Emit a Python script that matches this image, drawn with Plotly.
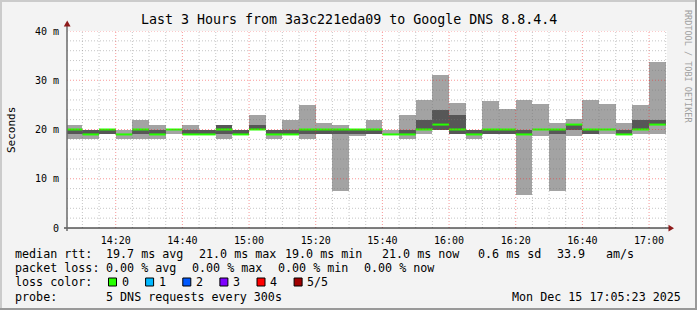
import plotly.graph_objects as go
import pandas as pd

# ---------------- data ----------------
bar_end = pd.date_range("2025-12-15 14:10", "2025-12-15 17:05", freq="5min")
ping_min = [18, 18, 19, 18, 18, 18, 19, 19, 19, 18, 19, 20, 18, 19, 18, 19, 7.6, 18.7,
            19, 19, 18, 19, 20, 19, 18, 19, 19, 6.8, 18.7, 7.6, 18.7, 19, 19, 19, 19, 19]
ping_lo = [19, 19, 19, 19, 19, 19, 20, 19, 19, 19, 19, 20, 19, 19, 19, 19, 19, 19,
           19, 19, 19, 20, 20, 19, 19, 19, 19, 19, 20, 19, 20, 19, 20, 19, 20, 21]
ping_med = [20, 19, 20, 19, 20, 19, 20, 19, 19, 20, 19, 20, 19, 19, 20, 20, 20, 20,
            20, 19, 19, 20, 21, 20, 19, 20, 20, 19, 20, 20, 21, 20, 20, 19, 20, 21]
ping_hi = [20, 20, 20, 19, 20, 20, 20, 20, 20, 21, 20, 21, 20, 20, 20, 20, 20, 20,
           20, 19, 20, 22, 24, 23, 20, 20, 20, 20, 20, 20, 21, 20, 20, 20, 22, 22]
ping_max = [21, 20, 20, 20, 22, 21, 20, 21, 20, 21, 20, 23, 20, 22, 25, 21.3, 21, 20,
            22, 20, 23, 26, 31, 25.4, 20, 25.8, 24.2, 26, 25.2, 21.3, 22.1, 26, 25.2, 21.3, 25, 33.8]

title_text = "Last 3 Hours from 3a3c221eda09 to Google DNS 8.8.4.4"
y_tick_vals = [0, 10, 20, 30, 40]
y_tick_text = ["0", "10 m", "20 m", "30 m", "40 m"]
x_tick_times = pd.date_range("2025-12-15 14:20", "2025-12-15 17:00", freq="20min")
x_tick_text = ["14:20", "14:40", "15:00", "15:20", "15:40", "16:00", "16:20", "16:40", "17:00"]
x_range = ["2025-12-15 14:05:23", "2025-12-15 17:05:23"]

legend_line1 = ["median rtt:", "19.7 ms avg", "21.0 ms max", "19.0 ms min", "21.0 ms now",
                "0.6 ms sd", "33.9", "am/s"]
legend_line2 = ["packet loss:", "0.00 % avg", "0.00 % max", "0.00 % min", "0.00 % now"]
loss_labels = ["0", "1", "2", "3", "4", "5/5"]
loss_colors = ["#26ff00", "#00b8ff", "#0059ff", "#7e00ff", "#ff0000", "#a00000"]
probe_text = "5 DNS requests every 300s"
date_text = "Mon Dec 15 17:05:23 2025"

# ---------------- geometry ----------------
W, H = 697, 310
ML, MT, PW, PH = 67, 31, 600, 197
FONT = "DejaVu Sans Mono"


def px(x):
    return (x - ML) / PW


def py(y):
    return (MT + PH - y) / PH


step = pd.Timedelta(minutes=5)
centers = [t - step / 2 for t in bar_end]

fig = go.Figure()
fig.add_trace(go.Bar(x=centers, y=[b - a for a, b in zip(ping_min, ping_max)], base=ping_min,
                     width=300000, marker=dict(color="#a3a3a3", line=dict(width=0)),
                     hoverinfo="skip"))
fig.add_trace(go.Bar(x=centers, y=[b - a for a, b in zip(ping_lo, ping_hi)], base=ping_lo,
                     width=300000, marker=dict(color="#575757", line=dict(width=0)),
                     hoverinfo="skip"))
mx, my = [], []
for t, m in zip(bar_end, ping_med):
    mx += [t - step, t, None]
    my += [m, m, None]
fig.add_trace(go.Scatter(x=mx, y=my, mode="lines", line=dict(color=loss_colors[0], width=2),
                         hoverinfo="skip"))

shapes = []
# grid on top of the smoke (rrdtool style)
minor_col = "rgba(120,120,120,0.42)"
major_col = "rgba(240,40,40,0.48)"
for t in bar_end:
    is_major = (t.minute % 20 == 0)
    shapes.append(dict(type="line", xref="x", yref="paper", x0=t, x1=t, y0=0, y1=1,
                       line=dict(color=major_col if is_major else minor_col, width=1, dash="1px,2px"),
                       layer="above"))
for v in range(2, 41, 2):
    is_major = (v % 10 == 0)
    shapes.append(dict(type="line", xref="paper", yref="y", x0=0, x1=1, y0=v, y1=v,
                       line=dict(color=major_col if is_major else minor_col, width=1, dash="1px,2px"),
                       layer="above"))

# axes lines and arrows
shapes.append(dict(type="line", xref="paper", yref="paper", x0=px(64), x1=px(670), y0=py(228), y1=py(228),
                   line=dict(color="black", width=1), layer="above"))
shapes.append(dict(type="line", xref="paper", yref="paper", x0=px(67), x1=px(67), y0=py(231), y1=py(25),
                   line=dict(color="#6a6a6a", width=1.5), layer="above"))


def tri(points, color):
    d = "M " + " L ".join(f"{px(a)},{py(b)}" for a, b in points) + " Z"
    return dict(type="path", xref="paper", yref="paper", path=d, fillcolor=color,
                line=dict(width=0), layer="above")


shapes.append(tri([(67.2, 20.5), (63.8, 26.5), (70.6, 26.5)], "#8e1a1a"))
shapes.append(tri([(674, 228.2), (668.5, 224.8), (668.5, 231.6)], "#8e1a1a"))

# 3D border
shapes.append(dict(type="rect", xref="paper", yref="paper", x0=px(0), x1=px(W), y0=py(0), y1=py(2),
                   fillcolor="#cbcbcb", line=dict(width=0)))
shapes.append(dict(type="rect", xref="paper", yref="paper", x0=px(0), x1=px(2), y0=py(0), y1=py(H),
                   fillcolor="#cbcbcb", line=dict(width=0)))
shapes.append(dict(type="rect", xref="paper", yref="paper", x0=px(0), x1=px(W), y0=py(H - 2), y1=py(H),
                   fillcolor="#999999", line=dict(width=0)))
shapes.append(dict(type="rect", xref="paper", yref="paper", x0=px(W - 2), x1=px(W), y0=py(0), y1=py(H),
                   fillcolor="#999999", line=dict(width=0)))

# loss color boxes
box_left = [108.5, 145.6, 182.8, 219.9, 257.0, 294.1]
for bl, c in zip(box_left, loss_colors):
    shapes.append(dict(type="rect", xref="paper", yref="paper", x0=px(bl), x1=px(bl + 8), y0=py(278), y1=py(286),
                       fillcolor=c, line=dict(color="black", width=1)))

anns = []


def txt(s, x, y, size=11.7, xanchor="left", color="black", angle=0):
    anns.append(dict(text=s, x=px(x), y=py(y), xref="paper", yref="paper", xanchor=xanchor,
                     yanchor="middle", showarrow=False, textangle=angle, borderpad=0, borderwidth=0,
                     font=dict(family=FONT, size=size, color=color)))


txt(title_text, W / 2, 19, size=13.3, xanchor="center")
txt("Seconds", 11, 130, size=11, xanchor="center", angle=-90)
txt("RRDTOOL / TOBI OETIKER", 688, 66, size=8.5, xanchor="center", color="#a0a0a0", angle=90)

x1 = [15, 106, 199, 285, 382, 478, 557, 606]
for s, x in zip(legend_line1, x1):
    txt(s, x, 254)
x2 = [15, 106, 192, 278, 364]
for s, x in zip(legend_line2, x2):
    txt(s, x, 268)
txt("loss color:", 15, 282)
for bl, lab in zip(box_left, loss_labels):
    txt(lab, bl + 13, 282)
txt("probe:", 15, 296.5)
txt(probe_text, 106, 296.5)
txt(date_text, 681, 296.5, xanchor="right")

fig.update_layout(
    width=W, height=H,
    margin=dict(l=ML, r=W - ML - PW, t=MT, b=H - MT - PH),
    paper_bgcolor="#f3f3f3", plot_bgcolor="white",
    showlegend=False, barmode="overlay", bargap=0,
    shapes=shapes, annotations=anns,
    xaxis=dict(type="date", range=x_range, tickvals=x_tick_times, ticktext=x_tick_text,
               showgrid=False, zeroline=False, showline=False, ticks="outside", ticklen=3,
               tickcolor="rgba(0,0,0,0)",
               tickfont=dict(family=FONT, size=10, color="black"), fixedrange=True),
    yaxis=dict(range=[0, 40], tickvals=y_tick_vals, ticktext=y_tick_text,
               showgrid=False, zeroline=False, showline=False, ticks="outside", ticklen=5,
               tickcolor="rgba(0,0,0,0)",
               tickfont=dict(family=FONT, size=10, color="black"), fixedrange=True),
)

fig.write_html("out.html")
